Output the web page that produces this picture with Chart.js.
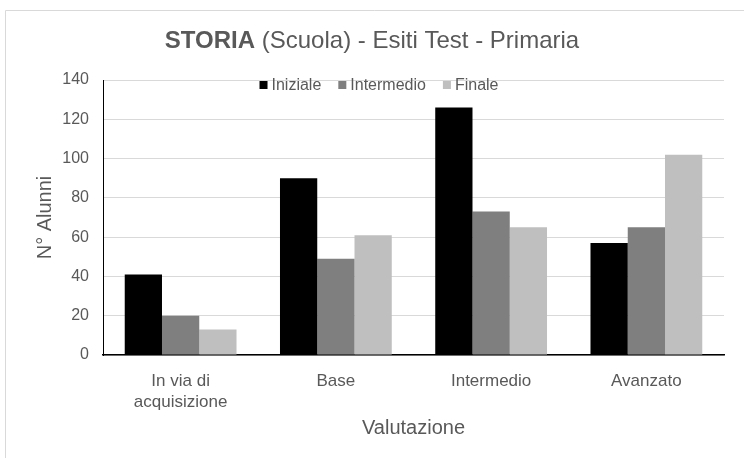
<!DOCTYPE html>
<html>
<head>
<meta charset="utf-8">
<script src="https://cdn.jsdelivr.net/npm/chart.js@4.4.0/dist/chart.umd.min.js"></script>
<style>
  html, body { margin: 0; padding: 0; background: #fff; }
</style>
</head>
<body>
<canvas id="storiaChart" width="744" height="458"></canvas>
<script>
// data
const categories = [['In via di', 'acquisizione'], 'Base', 'Intermedio', 'Avanzato'];
const seriesNames = ['Iniziale', 'Intermedio', 'Finale'];
const iniziale = [41, 90, 126, 57];
const intermedio = [20, 49, 73, 65];
const finale = [13, 61, 65, 102];
const seriesColors = ['#000000', '#7f7f7f', '#bfbfbf'];
const titleBold = 'STORIA';
const titleRest = ' (Scuola) - Esiti Test - Primaria';
const xTitle = 'Valutazione';
const yTitle = 'N\u00b0 Alunni';

const FONT = '"Liberation Sans", Arial, sans-serif';
const TEXT = '#595959';

// frame, title and in-plot legend (Excel style)
const excelDecor = {
    id: 'excelDecor',
    beforeDraw(chart) {
        const ctx = chart.ctx;
        ctx.save();
        ctx.fillStyle = '#fff';
        ctx.fillRect(0, 0, chart.width, chart.height);
        ctx.strokeStyle = '#d9d9d9';
        ctx.lineWidth = 1;
        ctx.beginPath();
        ctx.moveTo(5.5, chart.height);
        ctx.lineTo(5.5, 10.5);
        ctx.lineTo(chart.width, 10.5);
        ctx.stroke();
        ctx.restore();
    },
    afterDraw(chart) {
        const ctx = chart.ctx;
        ctx.save();
        ctx.fillStyle = TEXT;
        ctx.textBaseline = 'alphabetic';
        ctx.textAlign = 'left';

        // title
        ctx.font = 'bold 24px ' + FONT;
        const w1 = ctx.measureText(titleBold).width;
        ctx.font = '24px ' + FONT;
        const w2 = ctx.measureText(titleRest).width;
        let tx = 372 - (w1 + w2) / 2;
        ctx.font = 'bold 24px ' + FONT;
        ctx.fillText(titleBold, tx, 48);
        ctx.font = '24px ' + FONT;
        ctx.fillText(titleRest, tx + w1, 48);

        // legend
        ctx.font = '16px ' + FONT;
        ctx.textBaseline = 'middle';
        const box = 8, gapText = 4, gapItem = 17;
        const items = chart.data.datasets.map(ds => ({
            label: ds.label, color: ds.backgroundColor,
            w: box + gapText + ctx.measureText(ds.label).width
        }));
        const total = items.reduce((s, it) => s + it.w, 0) + gapItem * (items.length - 1);
        let lx = 379 - total / 2;
        const ly = 85;
        items.forEach(it => {
            ctx.fillStyle = it.color;
            ctx.fillRect(lx, ly - box / 2, box, box);
            ctx.fillStyle = TEXT;
            ctx.fillText(it.label, lx + box + gapText, ly + 1);
            lx += it.w + gapItem;
        });
        ctx.restore();
    }
};

const ctx = document.getElementById('storiaChart');
new Chart(ctx.getContext('2d'), {
    type: 'bar',
    data: {
        labels: categories,
        datasets: [
            { label: seriesNames[0], data: iniziale, backgroundColor: seriesColors[0] },
            { label: seriesNames[1], data: intermedio, backgroundColor: seriesColors[1] },
            { label: seriesNames[2], data: finale, backgroundColor: seriesColors[2] }
        ]
    },
    options: {
        responsive: false,
        devicePixelRatio: 1,
        animation: false,
        categoryPercentage: 0.72,
        barPercentage: 1.0,
        layout: { padding: { top: 80, right: 20, left: 0, bottom: 0 } },
        plugins: {
            legend: { display: false },
            title: { display: false },
            tooltip: { enabled: false }
        },
        scales: {
            x: {
                grid: { display: false, drawTicks: false },
                border: { display: true, color: '#000', width: 1.5 },
                ticks: { color: TEXT, font: { family: FONT, size: 17, lineHeight: 1.24 }, padding: 16, maxRotation: 0 },
                title: { display: true, text: xTitle, color: TEXT, font: { family: FONT, size: 20 }, padding: { top: 0, bottom: 18 } },
                afterFit: function(scale) { scale.height = 103; }
            },
            y: {
                min: 0,
                max: 140,
                ticks: { stepSize: 20, color: TEXT, font: { family: FONT, size: 16 }, padding: 14 },
                grid: { color: '#d9d9d9', lineWidth: 1, drawTicks: false },
                border: { display: true, color: '#000', width: 1 },
                title: { display: true, text: yTitle, color: TEXT, font: { family: FONT, size: 20 }, padding: { top: 33, bottom: 0 } },
                afterFit: function(scale) { scale.width = 103; }
            }
        }
    },
    plugins: [excelDecor]
});
</script>
</body>
</html>
